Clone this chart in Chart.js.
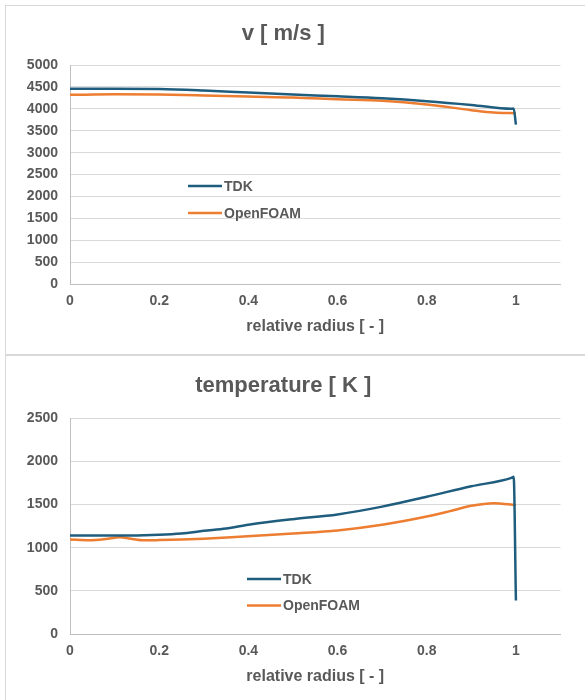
<!DOCTYPE html>
<html>
<head>
  <meta charset="utf-8">
  <title>v and temperature</title>
  <script src="https://cdn.jsdelivr.net/npm/chart.js"></script>
  <style>
    html, body { margin: 0; padding: 0; background: #fff; overflow: hidden; }
    .box { position: absolute; left: 5px; width: 584px; height: 348px; border: 1px solid #d9d9d9; }
    #box1 { top: 5px; }
    #box2 { top: 355px; }
  </style>
</head>
<body>
  <div class="box" id="box1"><canvas id="vChart" width="584" height="348"></canvas></div>
  <div class="box" id="box2"><canvas id="tChart" width="584" height="348"></canvas></div>

  <script>
    // velocity [m/s] vs relative radius
    const tdkVelR = [0, 0.1, 0.2, 0.3, 0.4, 0.5, 0.6, 0.7, 0.8, 0.9, 0.99, 0.995, 1.0];
    const tdkVel  = [4460, 4460, 4455, 4420, 4370, 4325, 4285, 4240, 4175, 4090, 4000, 4010, 3640];
    const foamVelR = [0, 0.1, 0.2, 0.3, 0.4, 0.5, 0.6, 0.7, 0.8, 0.9, 0.95, 1.0];
    const foamVel  = [4320, 4330, 4325, 4305, 4280, 4260, 4220, 4185, 4100, 3970, 3915, 3900];

    // temperature [K] vs relative radius
    const tdkTempR = [0, 0.1, 0.2, 0.25, 0.3, 0.35, 0.4, 0.5, 0.6, 0.7, 0.8, 0.9, 0.99, 0.995, 1.0];
    const tdkTemp  = [1140, 1140, 1150, 1165, 1195, 1222, 1265, 1330, 1385, 1475, 1590, 1710, 1808, 1820, 390];
    const foamTempR = [0, 0.045, 0.08, 0.112, 0.14, 0.165, 0.2, 0.25, 0.3, 0.38, 0.5, 0.6, 0.7, 0.8, 0.85, 0.9, 0.95, 1.0];
    const foamTemp  = [1095, 1087, 1100, 1121, 1100, 1085, 1088, 1095, 1105, 1128, 1165, 1200, 1265, 1360, 1420, 1485, 1515, 1492];

    const xTicks = [0, 0.2, 0.4, 0.6, 0.8, 1];
    const seriesNames = ['TDK', 'OpenFOAM'];
    const colors = ['#1f5d7e', '#ed7d31'];

    Chart.defaults.font.family = '"Liberation Sans", Arial, sans-serif';
    Chart.defaults.color = '#595959';

    const pairs = (xs, ys) => xs.map((x, i) => ({ x: x, y: ys[i] }));

    // legend drawn inside the plot area, like the Excel one
    const inlineLegend = {
      id: 'inlineLegend',
      afterDraw(chart, args, opts) {
        const { ctx, chartArea } = chart;
        ctx.save();
        chart.data.datasets.forEach((ds, i) => {
          const x = chartArea.left + opts.x;
          const y = chartArea.top + opts.y + i * opts.gap;
          ctx.strokeStyle = ds.borderColor;
          ctx.lineWidth = 2.5;
          ctx.beginPath();
          ctx.moveTo(x, y);
          ctx.lineTo(x + 34, y);
          ctx.stroke();
          ctx.fillStyle = '#595959';
          ctx.font = 'bold 14px "Liberation Sans", Arial, sans-serif';
          ctx.textBaseline = 'middle';
          ctx.fillText(ds.label, x + 36, y + 1);
        });
        ctx.restore();
      }
    };

    function makeChart(id, title, titlePad, data1, data2, yMax, legendPos) {
      return new Chart(document.getElementById(id), {
        type: 'line',
        data: {
          datasets: [data1, data2].map((d, i) => ({
            label: seriesNames[i],
            data: d,
            borderColor: colors[i],
            backgroundColor: colors[i],
            borderWidth: 2.5,
            pointRadius: 0,
            fill: false,
            cubicInterpolationMode: 'monotone'
          }))
        },
        options: {
          responsive: false,
          animation: false,
          layout: { padding: { left: 0, right: 29.5, top: 0, bottom: 0 } },
          plugins: {
            legend: { display: false },
            tooltip: { enabled: false },
            title: {
              display: true,
              text: title,
              color: '#595959',
              font: { size: 22, weight: 'bold' },
              padding: titlePad
            },
            inlineLegend: legendPos
          },
          scales: {
            x: {
              type: 'linear',
              min: 0,
              max: 1.1,
              afterBuildTicks: s => { s.ticks = xTicks.map(v => ({ value: v })); },
              grid: { display: false, drawTicks: false, tickLength: 0 },
              border: { display: true, color: '#bfbfbf', width: 1 },
              ticks: {
                padding: 9,
                font: { size: 14, weight: 'bold' },
                maxRotation: 0,
                callback: v => String(+v.toFixed(1))
              },
              title: {
                display: true,
                text: 'relative radius [ - ]',
                color: '#595959',
                font: { size: 16, weight: 'bold' },
                padding: { top: -1.6, bottom: 17.4 }
              }
            },
            y: {
              min: 0,
              max: yMax,
              afterFit: s => { s.width = 64; },
              grid: { color: '#d9d9d9', lineWidth: 1, drawTicks: false, tickLength: 0 },
              border: { display: true, color: '#bfbfbf', width: 1 },
              ticks: {
                stepSize: 500,
                padding: 12,
                font: { size: 14, weight: 'bold' },
                callback: v => String(v)
              }
            }
          }
        },
        plugins: [inlineLegend]
      });
    }

    makeChart('vChart', 'v [ m/s ]', { top: 15, bottom: 17.6 },
      pairs(tdkVelR, tdkVel), pairs(foamVelR, foamVel), 5000,
      { x: 118, y: 121, gap: 27 });

    makeChart('tChart', 'temperature [ K ]', { top: 17, bottom: 18.6 },
      pairs(tdkTempR, tdkTemp), pairs(foamTempR, foamTemp), 2500,
      { x: 177, y: 161, gap: 26.5 });
  </script>
</body>
</html>
